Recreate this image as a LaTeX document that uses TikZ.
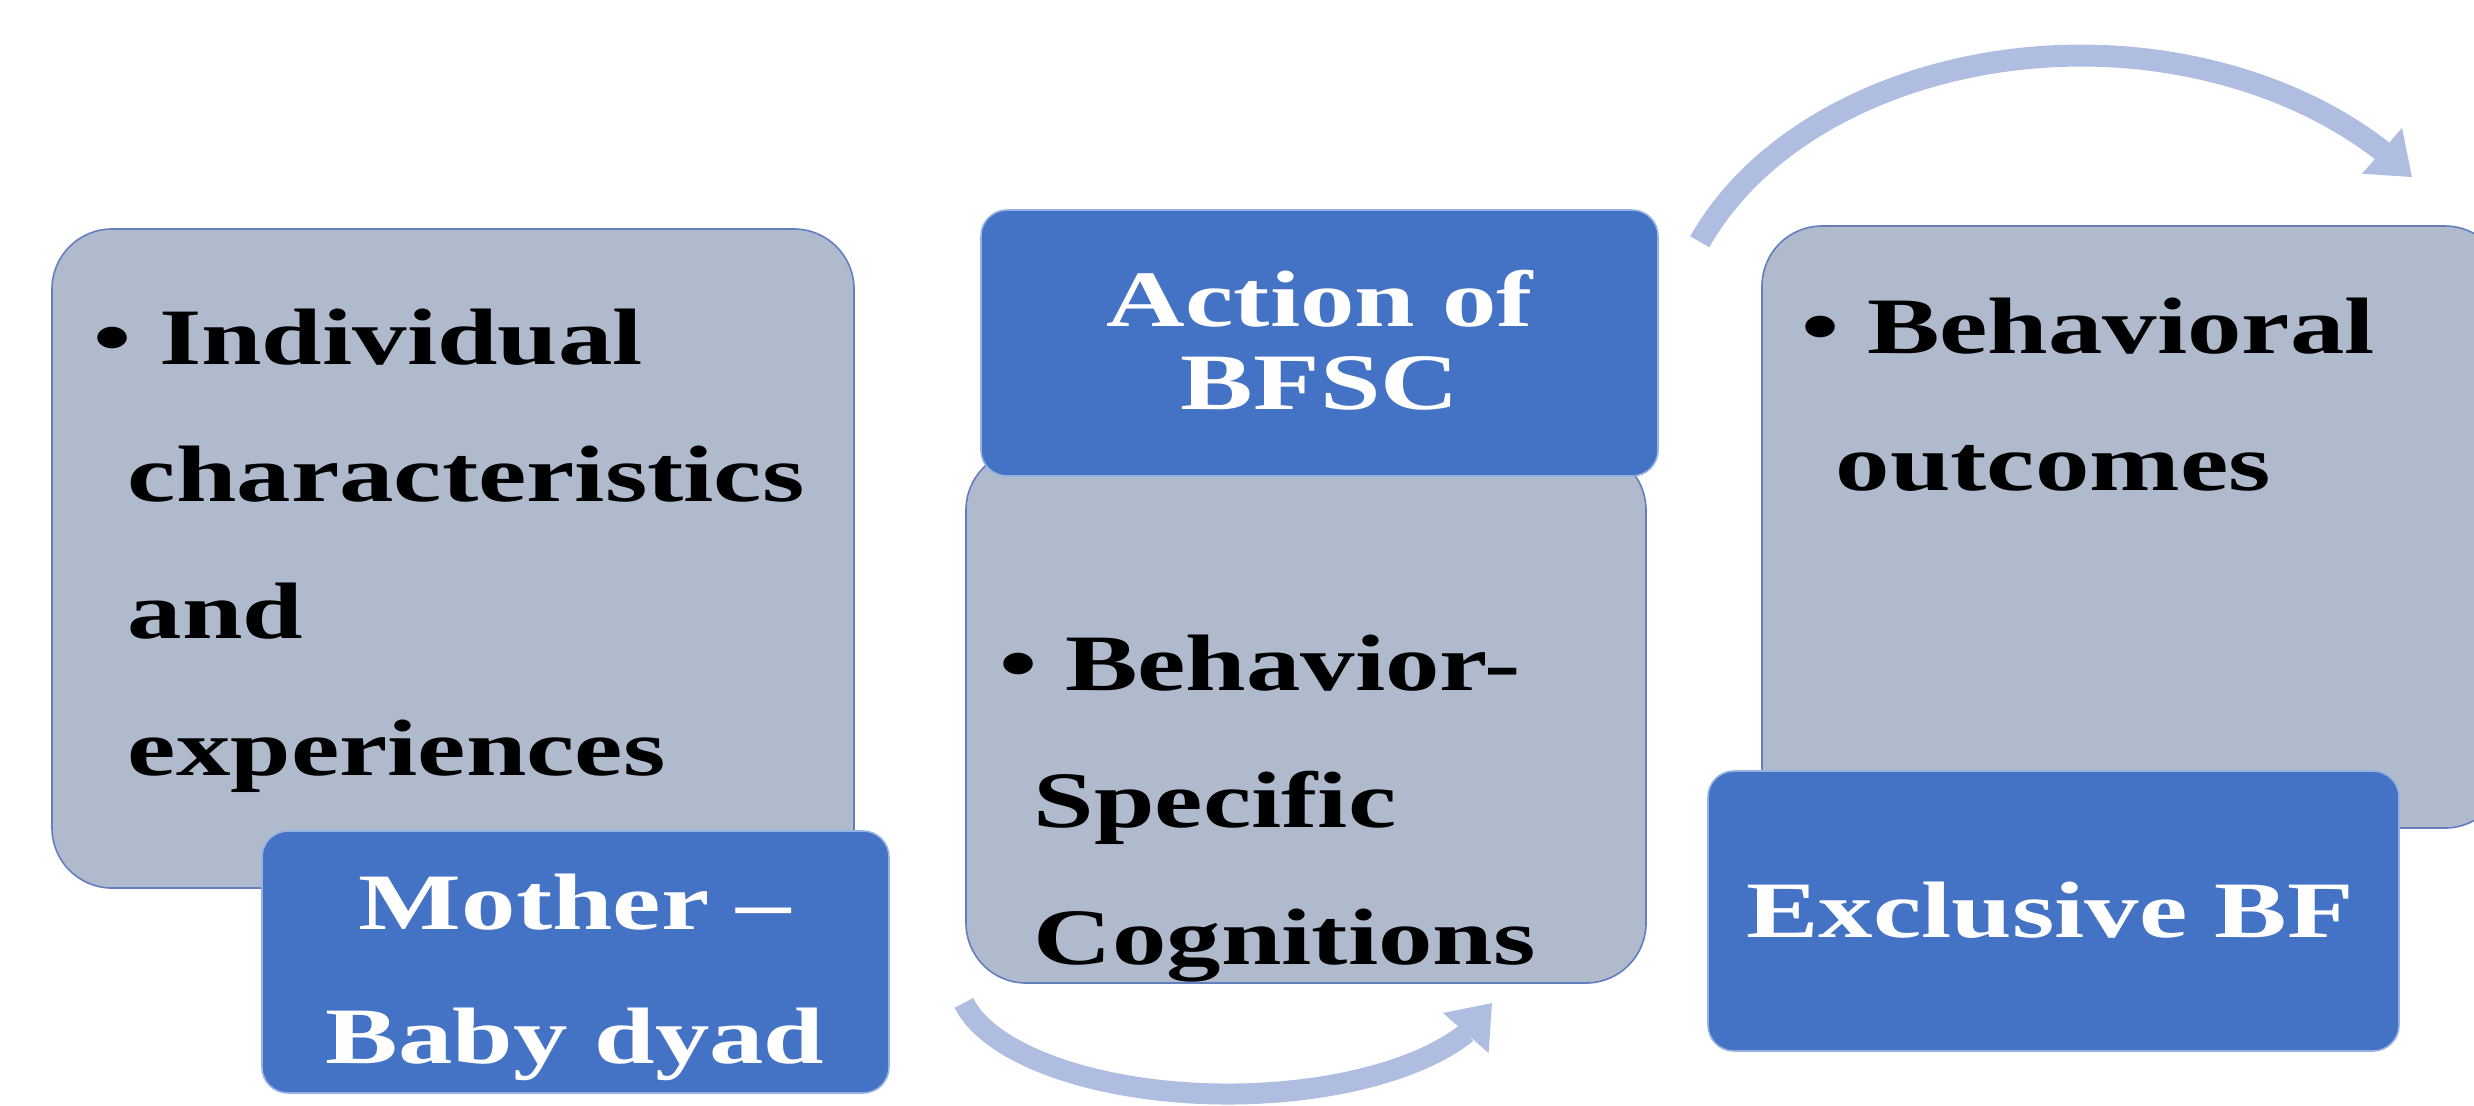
\documentclass[tikz,border=0pt]{standalone}
\usepackage{fontspec}
\newfontfamily\tnr{Liberation Serif}[FakeStretch=1.36]
\usetikzlibrary{arrows.meta,bending,fit}
\definecolor{boxgrey}{RGB}{175,187,204}
\definecolor{boxedge}{RGB}{100,125,190}
\definecolor{accent}{RGB}{68,114,196}
\definecolor{accentedge}{RGB}{150,178,226}
\definecolor{arrowc}{RGB}{174,189,224}
\tikzset{
  greybox/.style={fit={#1}, inner sep=0pt, outer sep=0pt, rounded corners=15pt,
    fill=boxgrey, draw=boxedge, line width=0.4pt},
  bluebox/.style={fit={#1}, inner sep=0pt, outer sep=0pt, rounded corners=6.5pt,
    fill=accent, draw=accentedge, line width=0.4pt},
  bodytext/.style={inner sep=0pt, anchor=base west, text=black,
    font=\tnr\bfseries\fontsize{20pt}{34.25pt}\selectfont},
  headtext/.style={inner sep=0pt, anchor=base, text=white,
    font=\tnr\bfseries\fontsize{20pt}{#1}\selectfont},
  flowarrow/.style={draw=arrowc, line width=#1,
    -{Triangle[width=14.5pt,length=10pt]}},
}
\begin{document}
\begin{tikzpicture}[x=0.25pt,y=-0.25pt]
\useasboundingbox (0,0) rectangle (2474,1105);
\clip (0,0) rectangle (2474,1105);

% grey content boxes
\node[greybox={(52,229) (854,888)}] (indiv) {};
\node[greybox={(966,450) (1646,983)}] (cogn) {};
\node[greybox={(1762,226) (2505,828)}] (outc) {};

% blue title boxes
\node[bluebox={(262,831) (889,1093)}] (dyad) {};
\node[bluebox={(981,210) (1658,476)}] (action) {};
\node[bluebox={(1708,771) (2399,1051)}] (excl) {};

% texts of grey boxes
\node[bodytext] (indivtext) at (93,364) {\vtop{%
  \hbox{\textbullet\ Individual}%
  \hbox{\kern8.5pt characteristics}%
  \hbox{\kern8.5pt and}%
  \hbox{\kern8.5pt experiences}}};
\node[bodytext] (cogntext) at (999,690) {\vtop{%
  \hbox{\textbullet\ Behavior-}%
  \hbox{\kern8.5pt Specific}%
  \hbox{\kern8.5pt Cognitions}}};
\node[bodytext] (outctext) at (1801,353) {\vtop{%
  \hbox{\textbullet\ Behavioral}%
  \hbox{\kern8.5pt outcomes}}};

% texts of blue boxes
\node[headtext=33.5pt] (dyadtext) at (575,929)
  {\begin{tabular}[t]{@{}c@{}}Mother –\\Baby dyad\end{tabular}};
\node[headtext=20.75pt] (actiontext) at (1320,326)
  {\begin{tabular}[t]{@{}c@{}}Action of\\BFSC\end{tabular}};
\node[headtext=24pt] (excltext) at (2050,937) {Exclusive BF};

% curved arrows
\coordinate (topstart) at (1699.8,241.8);
\draw[flowarrow=5.5pt] (topstart)
  arc[start angle=-157.7, end angle=-36.5, x radius=412, y radius=300];
\coordinate (botstart) at (963.9,1002.9);
\draw[flowarrow=5.25pt] (botstart)
  arc[start angle=168, end angle=12, x radius=270, y radius=115];
\end{tikzpicture}
\end{document}
